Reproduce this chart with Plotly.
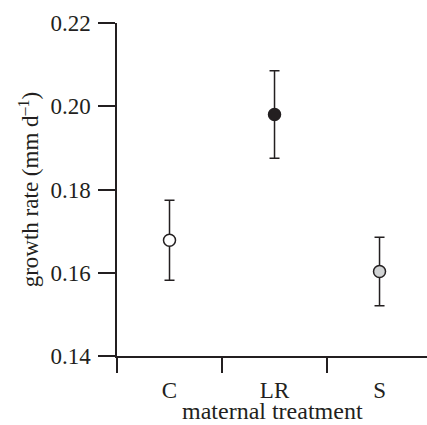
import plotly.graph_objects as go

categories = ["C", "LR", "S"]
means = [0.1678, 0.1980, 0.1603]
errors = [0.0096, 0.0105, 0.0082]
fills = ["#ffffff", "#231f20", "#d1d3d4"]
y_ticks = [0.14, 0.16, 0.18, 0.20, 0.22]

ink = "#231f20"
font_family = "Liberation Serif, Times New Roman, serif"

fig = go.Figure()
fig.add_trace(go.Scatter(
    x=categories, y=means, mode="markers",
    marker=dict(size=12, color=fills, line=dict(color=ink, width=1.5)),
    error_y=dict(type="data", array=errors, visible=True, color=ink, thickness=1.5, width=5),
    showlegend=False, cliponaxis=False,
))

fig.update_layout(
    width=427, height=425,
    margin=dict(l=117, r=0, t=23, b=69),
    paper_bgcolor="white", plot_bgcolor="white",
    font=dict(family=font_family, size=23, color=ink),
    xaxis=dict(
        type="category", categoryorder="array", categoryarray=categories,
        range=[-0.5, 2.452], tickson="boundaries",
        ticks="outside", ticklen=15, tickwidth=1.5, tickcolor=ink,
        showline=True, linecolor=ink, linewidth=1.5,
        showgrid=False, zeroline=False, ticklabelstandoff=13,
    ),
    yaxis=dict(
        range=[0.14, 0.22], tickvals=y_ticks, tickformat=".2f",
        ticks="outside", ticklen=17, tickwidth=1.5, tickcolor=ink,
        showline=True, linecolor=ink, linewidth=1.5,
        showgrid=False, zeroline=False, ticklabelstandoff=3,
        title=dict(text="growth rate (mm d<sup>–1</sup>)", standoff=5, font=dict(size=23)),
    ),
    annotations=[dict(
        text="maternal treatment", xref="paper", yref="paper",
        x=0.5, y=0, xanchor="center", yanchor="bottom", yshift=-69,
        showarrow=False, borderpad=0, font=dict(size=24),
    )],
)

fig.write_html(
    "out.html",
    config={"displayModeBar": False},
    post_script="document.body.style.margin='0';document.body.style.padding='0';",
)
